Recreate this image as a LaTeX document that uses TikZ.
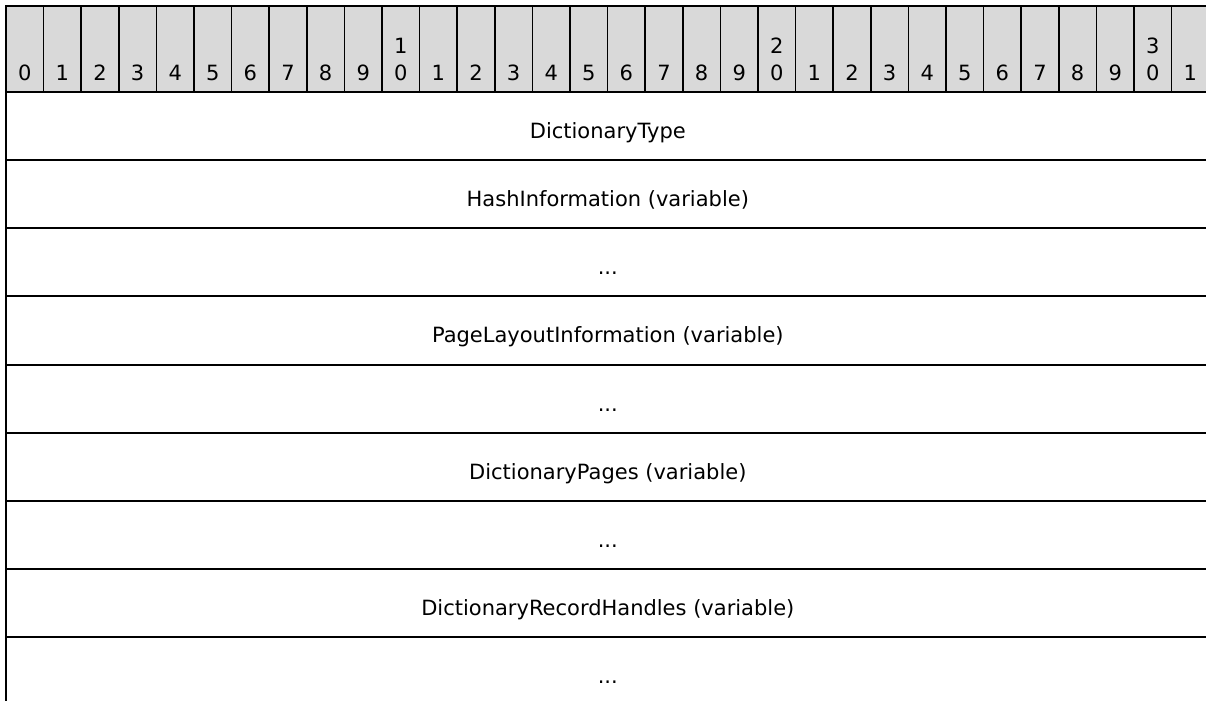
\documentclass[tikz,border=0pt]{standalone}
\usepackage{fontspec}
\setmainfont{DejaVu Sans}
\definecolor{hdrgray}{RGB}{217,217,217}
\newcommand{\fdots}{...}
\begin{document}
\begin{tikzpicture}[x=0.75pt,y=-0.75pt,
  lbl/.style={anchor=base, inner sep=0pt, font=\fontsize{15.75}{19}\selectfont},
  rule/.style={line width=1.5pt, line cap=rect},
  hrule/.style={line width=1.3pt}]
\clip (0,0) rectangle (1206,700);
% header background
\fill[hdrgray] (6,6) rectangle (1209.6,92);
% header separators and digits
\foreach \i in {0,...,31}{
  \pgfmathsetmacro{\xl}{6+37.6*\i}
  \pgfmathsetmacro{\xc}{\xl+18.8}
  \pgfmathtruncatemacro{\d}{mod(\i,10)}
  \pgfmathtruncatemacro{\t}{\i/10}
  \draw[hrule] (\xl,6) -- (\xl,92);
  \node[lbl] (h\i) at (\xc,80) {\d};
  \ifnum\d=0 \ifnum\i>0
    \node[lbl] (ht\i) at (\xc,53) {\t};
  \fi\fi
}
% horizontal rules
\foreach \k in {0,...,9}{
  \pgfmathsetmacro{\yy}{92+68.14*\k}
  \draw[rule] (6,\yy) -- (1209.6,\yy);
}
\draw[rule] (6,6) -- (1209.6,6);
\draw[rule] (6,6) -- (6,706);
% field labels
\foreach \k/\txt in {0/DictionaryType,
                     1/HashInformation (variable),
                     2/\fdots,
                     3/PageLayoutInformation (variable),
                     4/\fdots,
                     5/DictionaryPages (variable),
                     6/\fdots,
                     7/DictionaryRecordHandles (variable),
                     8/\fdots}{
  \pgfmathsetmacro{\yb}{92+68.14*\k+46.5}
  \node[lbl] (f\k) at (607.8,\yb) {\txt};
}
\end{tikzpicture}
\end{document}
